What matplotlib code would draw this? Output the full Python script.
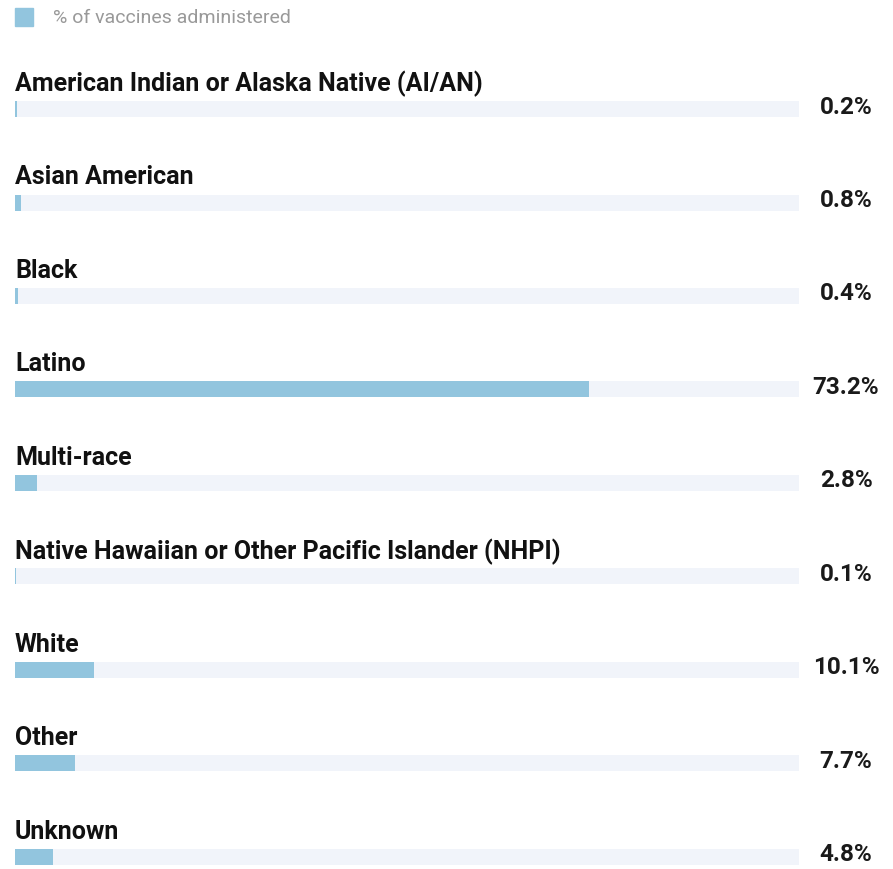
import matplotlib
matplotlib.use("Agg")
import matplotlib.pyplot as plt
from matplotlib.patches import Rectangle

plt.rcParams['font.family'] = ['Roboto', 'DejaVu Sans']

categories = [
    "American Indian or Alaska Native (AI/AN)",
    "Asian American",
    "Black",
    "Latino",
    "Multi-race",
    "Native Hawaiian or Other Pacific Islander (NHPI)",
    "White",
    "Other",
    "Unknown",
]
values = [0.2, 0.8, 0.4, 73.2, 2.8, 0.1, 10.1, 7.7, 4.8]
value_labels = ["0.2%", "0.8%", "0.4%", "73.2%", "2.8%", "0.1%", "10.1%", "7.7%", "4.8%"]
legend_label = "% of vaccines administered"

bar_color = "#92c5de"
track_color = "#f1f4fa"

W, H = 893, 869
fig = plt.figure(figsize=(W / 100, H / 100), dpi=100)
ax = fig.add_axes([15 / W, 0, 784 / W, 1])

row_px = 93.5
first_px = 109
ax.set_xlim(0, 100)
ax.set_ylim((H - first_px) / row_px, -first_px / row_px)
ax.axis("off")

pos = list(range(len(categories)))
bh = 16 / row_px
ax.barh(pos, [100] * len(pos), height=bh, color=track_color, left=0)
ax.barh(pos, values, height=bh, color=bar_color, left=0)

for i, (cat, lab) in enumerate(zip(categories, value_labels)):
    ax.text(0, i - 25 / row_px, cat, fontsize=18, fontweight="bold",
            color="#111111", va="center", ha="left")
    ax.text(106.0, i - 2 / row_px, lab, fontsize=17.5, fontweight="bold",
            color="#1a1a1a", va="center", ha="center", clip_on=False)

# legend
fig.patches.append(Rectangle((15 / W, 1 - 26 / H), 18 / W, 18 / H,
                             transform=fig.transFigure, color=bar_color))
fig.text(53 / W, 1 - 18 / H, legend_label, fontsize=14, color="#999999",
         va="center", ha="left")

fig.savefig("out.png", dpi=100)
